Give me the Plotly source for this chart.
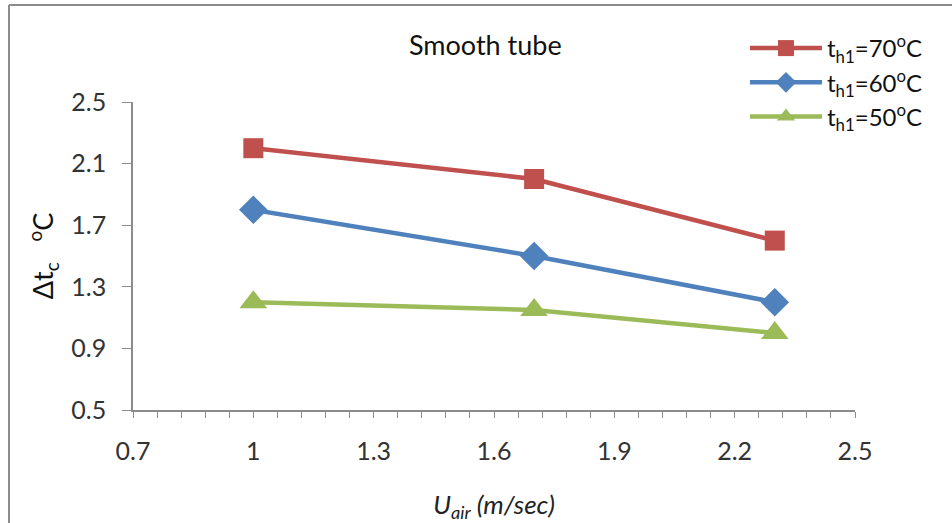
import plotly.graph_objects as go

# Air velocity (m/s) and cold-side temperature rise for three hot inlet temperatures
u_air = [1.0, 1.7, 2.3]
dt_70 = [2.2, 2.0, 1.6]
dt_60 = [1.8, 1.5, 1.2]
dt_50 = [1.2, 1.15, 1.0]

series_names = ["t<sub>h1</sub>=70<sup>o</sup>C",
                "t<sub>h1</sub>=60<sup>o</sup>C",
                "t<sub>h1</sub>=50<sup>o</sup>C"]
x_ticks = [0.7, 1.0, 1.3, 1.6, 1.9, 2.2, 2.5]
x_tick_text = ["0.7", "1", "1.3", "1.6", "1.9", "2.2", "2.5"]
y_ticks = [0.5, 0.9, 1.3, 1.7, 2.1, 2.5]

FONT = "Lato"
W, H = 952, 523
ML, MR, MT, MB = 133, 97, 102, 113
PW, PH = W - ML - MR, H - MT - MB

fig = go.Figure()
styles = [
    (dt_70, "#C0504D", "square", 20),
    (dt_60, "#4F81BD", "diamond", 22),
    (dt_50, "#9BBB59", "triangle-up", 24),
]
for (vals, color, sym, size), name in zip(styles, series_names):
    fig.add_trace(go.Scatter(
        x=u_air, y=vals, name=name, mode="lines+markers",
        line=dict(color=color, width=4.5),
        marker=dict(symbol=sym, size=size, color=color, line=dict(width=0)),
    ))


def px_x(p):
    return (p - ML) / PW


def px_y(p):
    return (H - MB - p) / PH


# outer frame of the chart (left and top edges)
frame = dict(color="#8c8c8c", width=2)
fig.add_shape(type="line", xref="paper", yref="paper",
              x0=px_x(9), x1=px_x(9), y0=px_y(530), y1=px_y(5), line=frame)
fig.add_shape(type="line", xref="paper", yref="paper",
              x0=px_x(9), x1=px_x(960), y0=px_y(5), y1=px_y(5), line=frame)

fig.add_annotation(text="Smooth tube", xref="paper", yref="paper",
                   x=px_x(485), y=px_y(45), xanchor="center", yanchor="middle",
                   showarrow=False,
                   font=dict(family=FONT, size=27, color="#111111"))

fig.update_layout(
    width=W, height=H,
    margin=dict(l=ML, r=MR, t=MT, b=MB),
    paper_bgcolor="white", plot_bgcolor="white",
    font=dict(family=FONT, color="#333333"),
    showlegend=True,
    legend=dict(x=px_x(745), y=px_y(26), xanchor="left", yanchor="top",
                font=dict(family=FONT, size=24, color="#111111"),
                itemwidth=72, tracegroupgap=0, bgcolor="rgba(0,0,0,0)"),
    xaxis=dict(range=[0.7, 2.5], tickvals=x_ticks, ticktext=x_tick_text,
               automargin=False,
               showgrid=False, zeroline=False, showline=True,
               linecolor="#8c8c8c", linewidth=1.5,
               ticks="outside", ticklen=6, tickcolor="#8c8c8c",
               ticklabelstandoff=12,
               minor=dict(dtick=0.06, tick0=0.7, ticks="outside", ticklen=6,
                          tickcolor="#8c8c8c", showgrid=False),
               tickfont=dict(family=FONT, size=25, color="#333333"),
               title=dict(text="<i>U<sub>air</sub> (m/sec)</i>", standoff=46,
                          font=dict(family=FONT, size=26, color="#222222"))),
    yaxis=dict(range=[0.5, 2.5], tickvals=y_ticks,
               automargin=False,
               showgrid=False, zeroline=False, showline=True,
               linecolor="#8c8c8c", linewidth=1.5,
               ticks="outside", ticklen=9, tickcolor="#8c8c8c",
               ticklabelstandoff=11,
               tickfont=dict(family=FONT, size=25, color="#333333"),
               title=dict(text="Δt<sub>c</sub>&nbsp;&nbsp;&nbsp;<sup>o</sup>C", standoff=10,
                          font=dict(family=FONT, size=27, color="#111111"))),
)

fig.write_html("out.html")
